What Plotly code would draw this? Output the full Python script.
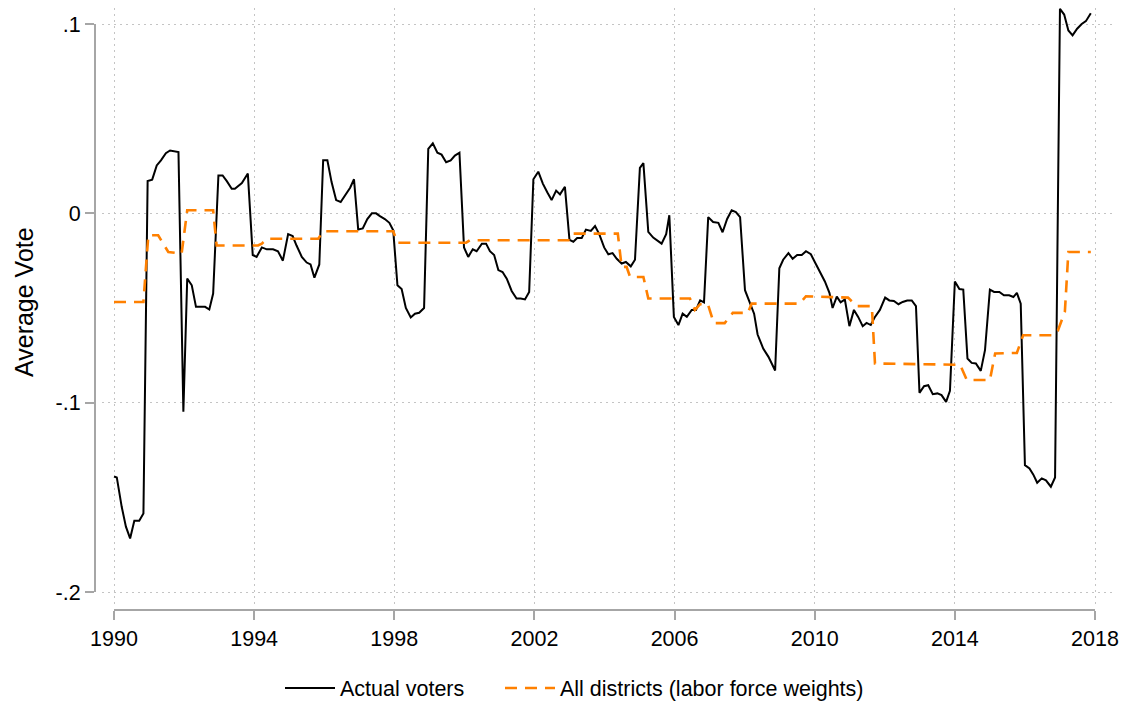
import plotly.graph_objects as go

# ---------------- data ----------------
years_actual = [
    1990.00, 1990.08, 1990.22, 1990.34, 1990.46, 1990.58, 1990.72, 1990.84, 1990.96,
    1991.09, 1991.22, 1991.34, 1991.48, 1991.60, 1991.84, 1991.98,
    1992.09, 1992.22, 1992.34, 1992.47, 1992.60, 1992.72, 1992.83, 1992.98,
    1993.10, 1993.22, 1993.36, 1993.45, 1993.65, 1993.82, 1993.96,
    1994.07, 1994.22, 1994.36, 1994.54, 1994.68, 1994.82, 1994.97,
    1995.10, 1995.21, 1995.36, 1995.50, 1995.61, 1995.72, 1995.86, 1995.97,
    1996.09, 1996.21, 1996.34, 1996.47, 1996.59, 1996.74, 1996.85, 1996.97,
    1997.10, 1997.23, 1997.36, 1997.48, 1997.59, 1997.73, 1997.86, 1997.97,
    1998.09, 1998.21, 1998.33, 1998.47, 1998.59, 1998.71, 1998.85, 1998.97,
    1999.10, 1999.23, 1999.35, 1999.48, 1999.61, 1999.73, 1999.86, 1999.99,
    2000.11, 2000.24, 2000.35, 2000.50, 2000.62, 2000.73, 2000.85, 2000.97,
    2001.09, 2001.21, 2001.35, 2001.49, 2001.61, 2001.73, 2001.85, 2001.97,
    2002.11, 2002.24, 2002.37, 2002.49, 2002.62, 2002.73, 2002.87, 2003.00,
    2003.11, 2003.22, 2003.35, 2003.47, 2003.61, 2003.73, 2003.85, 2003.99,
    2004.11, 2004.23, 2004.35, 2004.49, 2004.61, 2004.75, 2004.87, 2005.01,
    2005.11, 2005.25, 2005.39, 2005.49, 2005.63, 2005.76, 2005.85, 2005.98,
    2006.11, 2006.23, 2006.35, 2006.49, 2006.61, 2006.73, 2006.84, 2006.96,
    2007.10, 2007.25, 2007.37, 2007.50, 2007.63, 2007.75, 2007.87, 2008.01,
    2008.15, 2008.27, 2008.37, 2008.53, 2008.68, 2008.87, 2008.99,
    2009.10, 2009.25, 2009.37, 2009.50, 2009.63, 2009.75, 2009.89, 2010.01,
    2010.15, 2010.29, 2010.42, 2010.51, 2010.63, 2010.74, 2010.86, 2010.99,
    2011.12, 2011.24, 2011.37, 2011.48, 2011.60, 2011.72, 2011.86, 2012.01,
    2012.13, 2012.26, 2012.39, 2012.51, 2012.64, 2012.77, 2012.89, 2012.99,
    2013.12, 2013.24, 2013.37, 2013.50, 2013.62, 2013.75, 2013.86, 2014.00,
    2014.13, 2014.24, 2014.36, 2014.48, 2014.60, 2014.74, 2014.86, 2015.00,
    2015.12, 2015.27, 2015.40, 2015.55, 2015.67, 2015.77, 2015.88, 2016.00,
    2016.13, 2016.24, 2016.35, 2016.48, 2016.60, 2016.74, 2016.86, 2017.00,
    2017.12, 2017.24, 2017.36, 2017.49, 2017.62, 2017.74, 2017.88,
]
vote_actual = [
    -0.139, -0.1395, -0.155, -0.1655, -0.1717, -0.1624, -0.1624, -0.1585, 0.0171,
    0.0178, 0.0253, 0.028, 0.0318, 0.0332, 0.0324, -0.1048,
    -0.0345, -0.038, -0.0494, -0.0494, -0.0494, -0.0508, -0.0424, 0.020,
    0.020, 0.017, 0.013, 0.013, 0.016, 0.021, -0.022,
    -0.023, -0.018, -0.019, -0.019, -0.020, -0.025, -0.011,
    -0.012, -0.017, -0.023, -0.026, -0.027, -0.034, -0.027, 0.028,
    0.028, 0.0165, 0.007, 0.006, 0.0095, 0.0135, 0.018, -0.0085,
    -0.008, -0.003, 0.000, 0.000, -0.0015, -0.003, -0.005, -0.009,
    -0.038, -0.040, -0.050, -0.055, -0.053, -0.0525, -0.050, 0.034,
    0.037, 0.032, 0.031, 0.027, 0.028, 0.0305, 0.032, -0.018,
    -0.023, -0.019, -0.020, -0.016, -0.016, -0.020, -0.022, -0.030,
    -0.031, -0.0345, -0.041, -0.045, -0.045, -0.0455, -0.0415, 0.018,
    0.022, 0.0157, 0.011, 0.007, 0.012, 0.010, 0.014, -0.014,
    -0.015, -0.013, -0.013, -0.0086, -0.0093, -0.0067, -0.011, -0.018,
    -0.0216, -0.021, -0.024, -0.0265, -0.0257, -0.028, -0.0245, 0.024,
    0.0265, -0.0098, -0.0128, -0.014, -0.016, -0.011, -0.001, -0.0547,
    -0.059, -0.053, -0.0547, -0.051, -0.051, -0.046, -0.047, -0.002,
    -0.0046, -0.005, -0.010, -0.003, 0.0016, 0.0007, -0.002, -0.0406,
    -0.047, -0.053, -0.064, -0.0714, -0.0758, -0.083, -0.029,
    -0.0245, -0.021, -0.024, -0.022, -0.022, -0.020, -0.0216, -0.026,
    -0.031, -0.036, -0.042, -0.050, -0.044, -0.047, -0.0455, -0.0596,
    -0.051, -0.0547, -0.0596, -0.0579, -0.059, -0.0547, -0.051, -0.0445,
    -0.046, -0.0463, -0.048, -0.0468, -0.046, -0.046, -0.049, -0.0948,
    -0.0913, -0.0908, -0.0955, -0.0951, -0.096, -0.0996, -0.0938, -0.036,
    -0.040, -0.0403, -0.0767, -0.079, -0.0793, -0.0832, -0.0723, -0.0403,
    -0.0415, -0.0415, -0.0433, -0.0433, -0.0442, -0.042, -0.0477, -0.133,
    -0.1347, -0.138, -0.1423, -0.140, -0.141, -0.1444, -0.1395, 0.108,
    0.105, 0.0966, 0.094, 0.0975, 0.100, 0.1015, 0.1057,
]

years_all = [
    1990.00, 1990.84, 1990.98, 1991.26, 1991.55, 1991.93, 1992.09, 1992.83,
    1992.93, 1994.11, 1994.22, 1994.37, 1995.83, 1995.97, 1997.97, 1998.09,
    2000.05, 2000.16, 2003.01, 2003.11, 2004.38, 2004.49, 2004.63, 2004.73,
    2005.11, 2005.25, 2006.44, 2006.58, 2006.73, 2006.95, 2007.12, 2007.43,
    2007.66, 2008.09, 2008.20, 2009.57, 2009.75, 2010.95, 2011.20, 2011.63,
    2011.72, 2014.15, 2014.34, 2015.00, 2015.15, 2015.77, 2015.95, 2016.81,
    2016.94, 2017.14, 2017.24, 2017.88,
]
vote_all = [
    -0.0468, -0.0468, -0.0116, -0.0116, -0.0204, -0.0213, 0.0016, 0.0016,
    -0.017, -0.017, -0.016, -0.0134, -0.0134, -0.0095, -0.0095, -0.0155,
    -0.0155, -0.0142, -0.0142, -0.0107, -0.0107, -0.0283, -0.0283, -0.0336,
    -0.0336, -0.045, -0.045, -0.051, -0.048, -0.048, -0.058, -0.058,
    -0.0526, -0.0526, -0.0477, -0.0477, -0.0438, -0.0445, -0.049, -0.049,
    -0.0793, -0.080, -0.088, -0.088, -0.074, -0.0737, -0.0644, -0.0644,
    -0.062, -0.052, -0.0204, -0.0204,
]

series_names = ["Actual voters", "All districts (labor force weights)"]
x_ticks = [1990, 1994, 1998, 2002, 2006, 2010, 2014, 2018]
x_ticklabels = ["1990", "1994", "1998", "2002", "2006", "2010", "2014", "2018"]
y_ticks = [-0.2, -0.1, 0.0, 0.1]
y_ticklabels = ["-.2", "-.1", "0", ".1"]
y_title = "Average Vote"

# ---------------- layout geometry (page pixels) ----------------
PAGE_W, PAGE_H = 1127, 709
OFF = 8                                   # default body margin of the html page
W, H = PAGE_W - 2 * OFF, PAGE_H - 2 * OFF  # figure size
X0, X1 = 114, 1095          # page x of first / last x tick
YB, YT = 592, 24            # page y of lowest / highest y tick
PL, PR, PT, PB = 102, 1112, 5, 605   # plot (grid) area
XAXIS_Y = 610               # page y of the x-axis line
YAXIS_X = 95                # page x of the y-axis line

xlo, xhi = x_ticks[0], x_ticks[-1]
ylo, yhi = y_ticks[0], y_ticks[-1]
kx = (X1 - X0) / (xhi - xlo)
ky = (YB - YT) / (yhi - ylo)
PT_c = max(PT, OFF)
x_range = [xlo - (X0 - PL) / kx, xhi + (PR - X1) / kx]
y_range = [ylo - (PB - YB) / ky, yhi + (YT - PT_c) / ky]

def fx(p):
    return (p - OFF) / W

def fy(p):
    return 1 - (p - OFF) / H

AXIS_COLOR = "#a6a6a6"
GRID_COLOR = "#c4c4c4"
FONT = "Liberation Sans, Arial, sans-serif"

fig = go.Figure()
fig.add_trace(go.Scatter(
    x=years_actual, y=vote_actual, mode="lines", name=series_names[0],
    line=dict(color="black", width=2), legend="legend",
))
fig.add_trace(go.Scatter(
    x=years_all, y=vote_all, mode="lines", name=series_names[1],
    line=dict(color="#ff8000", width=2.6, dash="12px,8px"), legend="legend2",
))
# carrier for the offset (Stata-style) axes
fig.add_trace(go.Scatter(
    x=[None], y=[None], xaxis="x2", yaxis="y2", showlegend=False,
    hoverinfo="skip", mode="lines",
))

legend_common = dict(
    orientation="h", xanchor="left", yanchor="middle", y=fy(688),
    font=dict(size=21.5), bgcolor="rgba(0,0,0,0)", itemwidth=50,
)

fig.update_layout(
    width=W, height=H,
    margin=dict(l=0, r=0, t=0, b=0, autoexpand=False),
    paper_bgcolor="white",
    plot_bgcolor="rgba(0,0,0,0)",
    font=dict(family=FONT, size=21, color="black"),
    xaxis=dict(
        domain=[fx(PL), fx(PR)], range=x_range, anchor="y",
        tickvals=x_ticks, showticklabels=False, ticks="",
        showline=False, zeroline=False,
        showgrid=True, gridcolor=GRID_COLOR, gridwidth=1, griddash="1.5px,4.5px",
    ),
    yaxis=dict(
        domain=[fy(PB), fy(PT_c)], range=y_range, anchor="x",
        tickvals=y_ticks, showticklabels=False, ticks="",
        showline=False, zeroline=False,
        showgrid=True, gridcolor=GRID_COLOR, gridwidth=1, griddash="1.5px,4.5px",
    ),
    xaxis2=dict(
        domain=[fx(X0), fx(X1)], range=[xlo, xhi], anchor="free",
        position=fy(XAXIS_Y),
        tickvals=x_ticks, ticktext=x_ticklabels,
        ticks="outside", ticklen=9, tickwidth=2, tickcolor=AXIS_COLOR,
        showline=True, linecolor=AXIS_COLOR, linewidth=2,
        showgrid=False, zeroline=False,
        tickfont=dict(size=21.5, color="black"),
    ),
    yaxis2=dict(
        domain=[fy(YB), fy(YT)], range=[ylo, yhi], anchor="free",
        position=fx(YAXIS_X), side="left",
        tickvals=y_ticks, ticktext=y_ticklabels,
        ticks="outside", ticklen=9, tickwidth=2, tickcolor=AXIS_COLOR,
        showline=True, linecolor=AXIS_COLOR, linewidth=2,
        showgrid=False, zeroline=False,
        tickfont=dict(size=21.5, color="black"),
    ),
    showlegend=True,
    legend=dict(x=fx(280), **legend_common),
    legend2=dict(x=fx(500), **legend_common),
    annotations=[dict(
        text=y_title, textangle=-90, x=fx(24), y=fy(302),
        xref="paper", yref="paper", showarrow=False,
        font=dict(size=25, color="black"), xanchor="center", yanchor="middle",
    )],
)

fig.write_html("out.html")
